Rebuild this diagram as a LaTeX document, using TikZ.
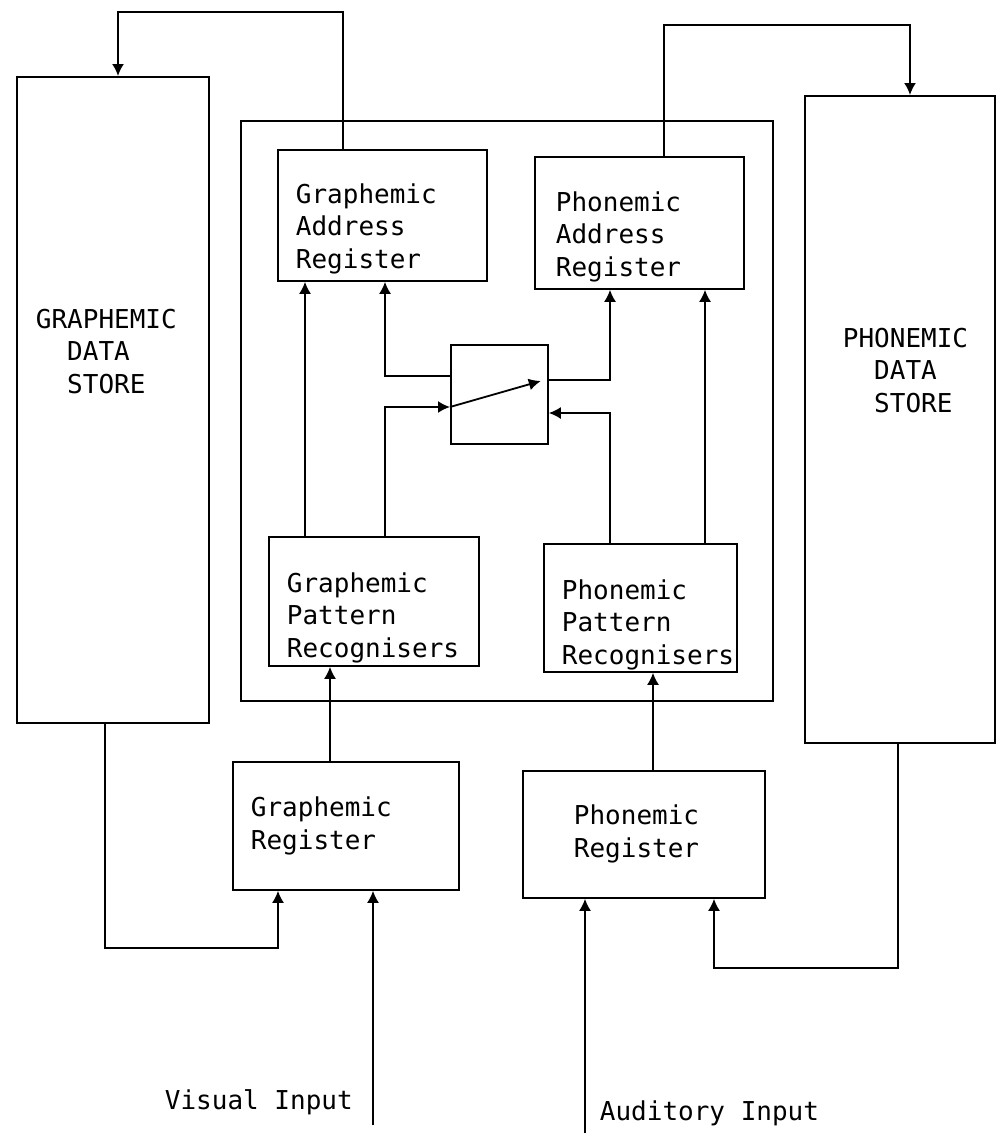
\documentclass[tikz,border=0pt]{standalone}
\usepackage{fontspec}
\setmonofont{DejaVu Sans Mono}
\usetikzlibrary{arrows.meta,calc}
\newcommand{\boxfont}{\ttfamily\fontsize{26}{32.5}\selectfont}
\tikzset{
  blk/.style={draw, rectangle, inner sep=0pt, anchor=north west},
  lbl/.style={anchor=base west, inner sep=0pt, align=left, font=\boxfont},
  arr/.style={-{Latex[length=12pt,width=12pt]}}
}

\begin{document}
\begin{tikzpicture}[x=1pt,y=-1pt,line width=1.8pt]
\useasboundingbox (0,0) rectangle (996,1133);

% stores and registers
\node[blk,minimum width=192,minimum height=646] (gds) at (16,76) {};
\node[blk,minimum width=190,minimum height=647] (pds) at (804,95) {};
\node[blk,minimum width=532,minimum height=580] (core) at (240,120) {};
\node[blk,minimum width=209,minimum height=131] (gar) at (277,149) {};
\node[blk,minimum width=209,minimum height=132] (par) at (534,156) {};
\node[blk,minimum width=97,minimum height=99] (sw) at (450,344) {};
\node[blk,minimum width=210,minimum height=129] (gpr) at (268,536) {};
\node[blk,minimum width=193,minimum height=128] (ppr) at (543,543) {};
\node[blk,minimum width=226,minimum height=128] (gr) at (232,761) {};
\node[blk,minimum width=242,minimum height=127] (pr) at (522,770) {};

% labels sit on the baseline of their last line
\node[lbl] (gds-t) at (35,393) {GRAPHEMIC\\\hphantom{XX}DATA\\\hphantom{XX}STORE};
\node[lbl] (pds-t) at (842,412) {PHONEMIC\\\hphantom{XX}DATA\\\hphantom{XX}STORE};
\node[lbl] (gar-t) at (295,268) {Graphemic\\Address\\Register};
\node[lbl] (par-t) at (555,276) {Phonemic\\Address\\Register};
\node[lbl] (gpr-t) at (286,657) {Graphemic\\Pattern\\Recognisers};
\node[lbl] (ppr-t) at (561,664) {Phonemic\\Pattern\\Recognisers};
\node[lbl] (gr-t) at (250,849) {Graphemic\\Register};
\node[lbl] (pr-t) at (573,857) {Phonemic\\Register};
\node[lbl] (vis-t) at (164,1109) {Visual Input};
\node[lbl] (aud-t) at (599,1120) {Auditory Input};

\coordinate (topl) at (118,12);
\coordinate (topr) at (910,25);
\coordinate (loopl) at (278,948);
\coordinate (loopr) at (714,968);
\coordinate (vis) at (373,1125);
\coordinate (aud) at (585,1133);

% address registers back to the stores
\draw[arr] ([xshift=66]gar.north west) |- (topl) -- ([xshift=102]gds.north west);
\draw[arr] ([xshift=130]par.north west) |- (topr) -- ([xshift=106]pds.north west);

% recognisers up to the address registers
\draw[arr] ([xshift=37]gpr.north west) -- ([xshift=28]gar.south west);
\draw[arr] ([xshift=162]ppr.north west) -- ([xshift=171]par.south west);

% the switch
\draw[arr] ([yshift=-32]sw.north west) -| ([xshift=108]gar.south west);
\draw[arr] ([xshift=117]gpr.north west) |- ([yshift=-63]sw.north west);
\draw[arr] ([yshift=-63]sw.north west) -- ([xshift=-8,yshift=-37]sw.north east);
\draw[arr] ([yshift=-36]sw.north east) -| ([xshift=76]par.south west);
\draw[arr] ([xshift=67]ppr.north west) |- ([yshift=-69]sw.north east);

% registers up to the recognisers
\draw[arr] ([xshift=98]gr.north west) -- ([xshift=62]gpr.south west);
\draw[arr] ([xshift=131]pr.north west) -- ([xshift=110]ppr.south west);

% inputs
\draw[arr] ([xshift=89]gds.south west) |- (loopl) -- ([xshift=46]gr.south west);
\draw[arr] ([xshift=94]pds.south west) |- (loopr) -- ([xshift=192]pr.south west);
\draw[arr] (vis) -- ([xshift=141]gr.south west);
\draw[arr] (aud) -- ([xshift=63]pr.south west);

\end{tikzpicture}
\end{document}
